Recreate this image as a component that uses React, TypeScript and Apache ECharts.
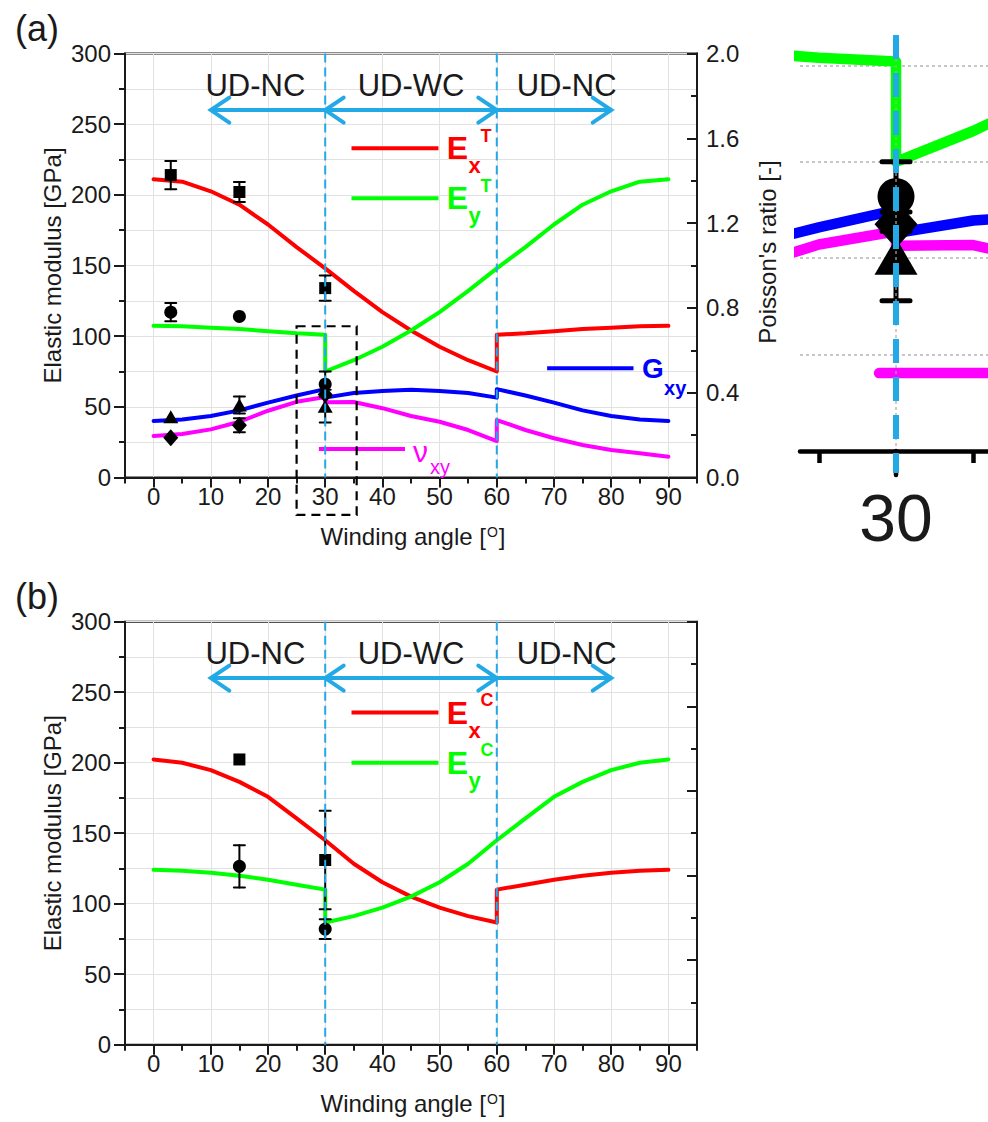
import React, { useEffect, useRef } from 'react';
import * as echarts from 'echarts';

// ---------------- data ----------------
const angles = [0, 5, 10, 15, 20, 25, 30, 30, 35, 40, 45, 50, 55, 60, 60, 65, 70, 75, 80, 85, 90];
// tension (a)
const ExT = [211, 209.3, 202.5, 193, 179, 163, 148, 148, 132, 117, 104, 92.5, 83, 75, 101, 102, 103.5, 105, 106, 107, 107.3];
const EyT = [107.3, 107, 106, 105, 103.5, 102, 101, 75, 83, 92.5, 104, 117, 132, 148, 148, 163, 179, 193, 202.5, 209.3, 211];
const GxyT = [40, 41, 43.5, 47.5, 53, 58, 62.5, 56.5, 59.8, 61.2, 62, 61.2, 59.8, 56.5, 62.5, 58, 53, 47.5, 43.5, 41, 40];
const NuxyT = [0.196, 0.205, 0.227, 0.263, 0.315, 0.357, 0.38, 0.355, 0.356, 0.327, 0.29, 0.263, 0.224, 0.172, 0.271, 0.224, 0.185, 0.153, 0.13, 0.114, 0.098];
// compression (b)
const ExC = [202.3, 200, 194.7, 186.4, 175.8, 160.5, 145, 145, 128.3, 115.2, 105, 97.2, 91.2, 86.7, 110, 113.5, 117, 119.8, 122, 123.3, 124];
const EyC = [124, 123.3, 122, 119.8, 117, 113.5, 110, 86.7, 91.2, 97.2, 105, 115.2, 128.3, 145, 145, 160.5, 175.8, 186.4, 194.7, 200, 202.3];

// experimental points (a)
const expTAngle = [3, 15, 30];
const expTEx = [214, 202, 134];
const expTExErr = [10, 7, 9];
const expTEy = [117, 114, 66];
const expTEyErr = [6.5, 0, 9];
const expTG = [43, 51.3, 50.5];
const expTGErr = [0, 6, 11.5];
const expTNu = [0.188, 0.247, 0.392];
const expTNuErr = [0, 0.033, 0];
// experimental points (b)
const expCAngle = [15, 30];
const expCEx = [202.3, 131];
const expCExErr = [0, 35];
const expCEy = [126.5, 82];
const expCEyErr = [15, 7];

// ticks / labels
const xTickValues = [0, 10, 20, 30, 40, 50, 60, 70, 80, 90];
const xMinorTickValues = [-5, 5, 15, 25, 35, 45, 55, 65, 75, 85, 95];
const boundaryAngles = [30, 60];
const regionLabels = ['UD-NC', 'UD-WC', 'UD-NC'];

// ---------------- styles / layout ----------------
const FONT = '"Liberation Sans", Arial, Helvetica, sans-serif';
const INK = '#1a1a1a';
const GRIDC = '#e2e2e2';
const CYAN = '#22a9e6';
const RED = '#ff0000';
const GREEN = '#00ff00';
const BLUE = '#0000ff';
const MAGENTA = '#ff00ff';
const INSET_X = [23.78, 35.96];
const INSET_Y_MAX = 107.9;
const NU_PER_GPA = 2 / 300;

function pairs(xs: number[], ys: number[]) {
  return xs.map((x, i) => [x, ys[i]]);
}
function errRows(xs: number[], ys: number[], es: number[]) {
  const rows: number[][] = [];
  xs.forEach((x, i) => {
    if (es[i] > 0) rows.push([x, ys[i] - es[i], ys[i] + es[i]]);
  });
  return rows;
}
const inInset = (r: number[]) => r[0] >= INSET_X[0] && r[0] <= INSET_X[1];

function lineSeries(xi: number, yi: number, ys: number[], color: string, width: number, z = 2) {
  return {
    type: 'line', xAxisIndex: xi, yAxisIndex: yi, data: pairs(angles, ys),
    symbol: 'none', showSymbol: false, clip: true, silent: true, z,
    lineStyle: { color, width, cap: 'round', join: 'round' },
    emphasis: { disabled: true },
  };
}
function errSeries(xi: number, yi: number, rows: number[][], halfCap: number, width: number, z = 3) {
  return {
    type: 'custom', xAxisIndex: xi, yAxisIndex: yi, data: rows, clip: true, silent: true, z,
    encode: { x: 0, y: [1, 2] },
    renderItem: (_p: any, api: any) => {
      const x = api.value(0);
      const lo = api.coord([x, api.value(1)]);
      const hi = api.coord([x, api.value(2)]);
      const style = { stroke: '#000', lineWidth: width, lineCap: 'round' };
      return {
        type: 'group',
        children: [
          { type: 'line', shape: { x1: lo[0], y1: lo[1], x2: hi[0], y2: hi[1] }, style },
          { type: 'line', shape: { x1: lo[0] - halfCap, y1: lo[1], x2: lo[0] + halfCap, y2: lo[1] }, style },
          { type: 'line', shape: { x1: hi[0] - halfCap, y1: hi[1], x2: hi[0] + halfCap, y2: hi[1] }, style },
        ],
      };
    },
  };
}
function scatterSeries(xi: number, yi: number, rows: number[][], symbol: string, size: any, z = 4) {
  return {
    type: 'scatter', xAxisIndex: xi, yAxisIndex: yi, data: rows, symbol, symbolSize: size,
    clip: true, silent: true, z, itemStyle: { color: '#000', opacity: 1 }, emphasis: { disabled: true },
  };
}

const tickLine = { color: INK, width: 2 };
function xMain(gi: number) {
  return {
    type: 'value', gridIndex: gi, position: 'bottom', min: -5, max: 95,
    axisLine: { show: true, onZero: false, lineStyle: tickLine },
    axisTick: { show: true, customValues: xTickValues, length: 10, lineStyle: tickLine },
    axisLabel: { show: true, customValues: xTickValues, fontSize: 24, fontFamily: FONT, color: INK, margin: 7 },
    splitLine: { show: true, lineStyle: { color: GRIDC, width: 1 } },
  };
}
function xMinor(gi: number) {
  return {
    type: 'value', gridIndex: gi, position: 'bottom', min: -5, max: 95,
    axisLine: { show: false, onZero: false },
    axisTick: { show: true, customValues: xMinorTickValues, length: 6, lineStyle: tickLine },
    axisLabel: { show: false },
    splitLine: { show: false },
  };
}
function yLeft(gi: number) {
  return {
    type: 'value', gridIndex: gi, position: 'left', min: 0, max: 300, interval: 50,
    axisLine: { show: true, onZero: false, lineStyle: tickLine },
    axisTick: { show: true, length: 11, lineStyle: tickLine },
    minorTick: { show: true, splitNumber: 2, length: 6, lineStyle: tickLine },
    axisLabel: { show: true, fontSize: 24, fontFamily: FONT, color: INK, margin: 14 },
    splitLine: { show: true, lineStyle: { color: GRIDC, width: 1 } },
    minorSplitLine: { show: true, lineStyle: { color: GRIDC, width: 1 } },
  };
}
function yRight(gi: number, showLabels: boolean) {
  return {
    type: 'value', gridIndex: gi, position: 'right', min: 0, max: 2, interval: 0.4,
    axisLine: { show: true, onZero: false, lineStyle: tickLine },
    axisTick: { show: true, inside: true, length: 10, lineStyle: tickLine },
    minorTick: { show: true, splitNumber: 2, length: 6, lineStyle: tickLine },
    axisLabel: {
      show: showLabels, fontSize: 24, fontFamily: FONT, color: INK, margin: 9,
      formatter: (v: number) => v.toFixed(1),
    },
    splitLine: { show: false },
  };
}

function buildOption() {
  const gridBase = { show: true, borderColor: INK, borderWidth: 2, backgroundColor: 'transparent', containLabel: false, outerBoundsMode: 'none' };
  const tErr = [
    ...errRows(expTAngle, expTEx, expTExErr),
    ...errRows(expTAngle, expTEy, expTEyErr),
    ...errRows(expTAngle, expTG, expTGErr),
  ];
  const nuErr = errRows(expTAngle, expTNu, expTNuErr);
  const cErr = [...errRows(expCAngle, expCEx, expCExErr), ...errRows(expCAngle, expCEy, expCEyErr)];
  return {
    animation: false,
    backgroundColor: '#fff',
    grid: [
      { ...gridBase, left: 125, top: 53.5, width: 572, height: 424 },
      { ...gridBase, left: 125, top: 621.7, width: 572, height: 423 },
      { left: 800, top: 35, width: 188, height: 416, show: false, containLabel: false, outerBoundsMode: 'none' },
    ],
    xAxis: [
      xMain(0), xMinor(0), xMain(1), xMinor(1),
      {
        type: 'value', gridIndex: 2, position: 'bottom', min: INSET_X[0], max: INSET_X[1],
        axisLine: { show: true, onZero: false, lineStyle: { color: '#000', width: 4.5 } },
        axisTick: { show: true, customValues: [25, 35], length: 12, lineStyle: { color: '#000', width: 4.5 } },
        axisLabel: { show: false }, splitLine: { show: false },
      },
    ],
    yAxis: [
      yLeft(0), yRight(0, true), yLeft(1), yRight(1, false),
      {
        type: 'value', gridIndex: 2, min: 0, max: INSET_Y_MAX,
        axisLine: { show: false, onZero: false },
        axisTick: { show: false, customValues: [25, 50, 75, 100] },
        axisLabel: { show: false },
        splitLine: { show: true, lineStyle: { color: '#b5b5b5', width: 1.5, type: [3, 3] } },
      },
      { type: 'value', gridIndex: 2, min: 0, max: INSET_Y_MAX * NU_PER_GPA, show: false },
    ],
    series: [
      // (a)
      lineSeries(0, 0, ExT, RED, 4),
      lineSeries(0, 0, EyT, GREEN, 4),
      lineSeries(0, 0, GxyT, BLUE, 4),
      lineSeries(0, 1, NuxyT, MAGENTA, 4),
      errSeries(0, 0, tErr, 5.5, 2),
      errSeries(0, 1, nuErr, 5.5, 2),
      scatterSeries(0, 0, pairs(expTAngle, expTEx), 'rect', 12),
      scatterSeries(0, 0, pairs(expTAngle, expTEy), 'circle', 13),
      scatterSeries(0, 0, pairs(expTAngle, expTG), 'triangle', [15, 13]),
      scatterSeries(0, 1, pairs(expTAngle, expTNu), 'diamond', [15, 17]),
      // (b)
      lineSeries(2, 2, ExC, RED, 4),
      lineSeries(2, 2, EyC, GREEN, 4),
      errSeries(2, 2, cErr, 5.5, 2),
      scatterSeries(2, 2, pairs(expCAngle, expCEx), 'rect', 12),
      scatterSeries(2, 2, pairs(expCAngle, expCEy), 'circle', 13),
      // inset (magnified view round 30 degrees)
      lineSeries(4, 4, ExT, RED, 10.5),
      lineSeries(4, 4, EyT, GREEN, 10.5),
      lineSeries(4, 4, GxyT, BLUE, 10.5),
      lineSeries(4, 5, NuxyT, MAGENTA, 10.5),
      errSeries(4, 4, tErr.filter(inInset), 14, 5),
      errSeries(4, 5, nuErr.filter(inInset), 14, 5),
      scatterSeries(4, 4, pairs(expTAngle, expTEx).filter(inInset), 'rect', 33),
      scatterSeries(4, 4, pairs(expTAngle, expTEy).filter(inInset), 'circle', 37),
      scatterSeries(4, 4, pairs(expTAngle, expTG).filter(inInset), 'triangle', [43, 37]),
      scatterSeries(4, 5, pairs(expTAngle, expTNu).filter(inInset), 'diamond', [43, 48]),
    ],
  };
}

function buildGraphic(chart: any) {
  const P = (xi: number, yi: number, x: number, y: number) =>
    chart.convertToPixel({ xAxisIndex: xi, yAxisIndex: yi }, [x, y]) as number[];
  const els: any[] = [];
  const text = (x: number, y: number, t: string, size: number, color = INK, weight = 'normal', align = 'center', rotation = 0) =>
    els.push({
      type: 'text', x, y, rotation, z: 30, silent: true,
      style: { text: t, fontSize: size, fontFamily: FONT, fontWeight: weight, fill: color, align, verticalAlign: 'middle' },
    });
  const seg = (x1: number, y1: number, x2: number, y2: number, color: string, w: number, dash: any = null, z = 30, cap = 'butt') =>
    els.push({
      type: 'line', z, silent: true, shape: { x1, y1, x2, y2 },
      style: dash ? { stroke: color, lineWidth: w, lineDash: dash, lineCap: cap } : { stroke: color, lineWidth: w, lineCap: cap },
    });
  const poly = (pts: number[][], color: string, w: number) =>
    els.push({
      type: 'polyline', z: 30, silent: true, shape: { points: pts },
      style: { stroke: color, lineWidth: w, fill: null, lineJoin: 'miter', lineCap: 'round' },
    });

  const panels = [
    { xi: 0, yi: 0, tag: '(a)', legY: [233, 197.6], sup: 'T' },
    { xi: 2, yi: 2, tag: '(b)', legY: [235.6, 199.9], sup: 'C' },
  ];
  const regionAt = [17.8, 45, 72.2];
  panels.forEach((p) => {
    const tl = P(p.xi, p.yi, -5, 300);
    const br = P(p.xi, p.yi, 95, 0);
    text(37, tl[1] - 25.5, p.tag, 36);
    regionLabels.forEach((t, i) => {
      const q = P(p.xi, p.yi, regionAt[i], 277.5);
      text(q[0], q[1], t, 31);
    });
    // arrows
    const ay = P(p.xi, p.yi, 0, 260)[1];
    const ax = [10, 30, 60, 80].map((a) => P(p.xi, p.yi, a, 0)[0]);
    seg(ax[0], ay, ax[3], ay, CYAN, 4);
    const dx = 18.5, dy = 12.5;
    poly([[ax[0] + dx, ay - dy], [ax[0], ay], [ax[0] + dx, ay + dy]], CYAN, 4);
    poly([[ax[1] + dx, ay - dy], [ax[1], ay], [ax[1] + dx, ay + dy]], CYAN, 4);
    poly([[ax[2] - dx, ay - dy], [ax[2], ay], [ax[2] - dx, ay + dy]], CYAN, 4);
    poly([[ax[3] - dx, ay - dy], [ax[3], ay], [ax[3] - dx, ay + dy]], CYAN, 4);
    // region boundaries
    boundaryAngles.forEach((a) => {
      const t = P(p.xi, p.yi, a, 300);
      const u = P(p.xi, p.yi, a, 0);
      seg(t[0], t[1], u[0], u[1], CYAN, 2, [9, 5], 50);
    });
    // legend Ex / Ey
    const legs = [
      { y: p.legY[0], color: RED, sub: 'x' },
      { y: p.legY[1], color: GREEN, sub: 'y' },
    ];
    legs.forEach((l) => {
      const a = P(p.xi, p.yi, 34.6, l.y);
      const b = P(p.xi, p.yi, 49.8, l.y);
      seg(a[0], a[1], b[0], b[1], l.color, 4);
      text(b[0] + 8.4, a[1], 'E', 32, l.color, 'bold', 'left');
      text(b[0] + 30, a[1] + 17.5, l.sub, 22, l.color, 'bold', 'left');
      text(b[0] + 42, a[1] - 12.5, p.sup, 18, l.color, 'bold', 'left');
    });
    // axis titles
    text(52, (tl[1] + br[1]) / 2, 'Elastic modulus [GPa]', 24, INK, 'normal', 'center', Math.PI / 2);
    els.push({
      type: 'text', x: P(p.xi, p.yi, 45, 0)[0] + 2, y: br[1] + 59.2, z: 30, silent: true,
      style: {
        text: 'Winding angle [{s|O}]', fontSize: 24, fontFamily: FONT, fill: INK, align: 'center', verticalAlign: 'middle',
        rich: { s: { fontSize: 14, fontFamily: FONT, fill: INK, verticalAlign: 'top', padding: [0, 1, 0, 1] } },
      },
    });
  });

  // (a) extras
  {
    const g1 = P(0, 0, 68.8, 77.3);
    const g2 = P(0, 0, 83.9, 77.3);
    seg(g1[0], g1[1], g2[0], g2[1], BLUE, 4);
    text(g2[0] + 8.4, g1[1], 'G', 28, BLUE, 'bold', 'left');
    text(g2[0] + 30.5, g1[1] + 20, 'xy', 20, BLUE, 'bold', 'left');
    const n1 = P(0, 0, 28.9, 20.2);
    const n2 = P(0, 0, 43.95, 20.2);
    seg(n1[0], n1[1], n2[0], n2[1], MAGENTA, 4);
    text(n2[0] + 8, n1[1] + 3, 'ν', 30, MAGENTA, 'normal', 'left');
    text(n2[0] + 25, n1[1] + 18, 'xy', 20, MAGENTA, 'normal', 'left');
    const tr = P(0, 1, 95, 1);
    text(tr[0] + 70, 252, "Poisson's ratio [-]", 24, INK, 'normal', 'center', Math.PI / 2);
    const b1 = P(0, 0, 25, 107);
    const b2 = P(0, 0, 35.5, -26.5);
    els.push({
      type: 'rect', z: 40, silent: true,
      shape: { x: b1[0], y: b1[1], width: b2[0] - b1[0], height: b2[1] - b1[1] },
      style: { fill: null, stroke: '#000', lineWidth: 2.2, lineDash: [9, 6] },
    });
  }

  // inset extras
  {
    const q0 = P(4, 4, 30, 0);
    const qt = P(4, 4, 30, INSET_Y_MAX);
    seg(q0[0], qt[1], q0[0], q0[1], '#aaa', 1.2, [3, 3], 8);
    seg(q0[0], q0[1], q0[0], q0[1] + 24, '#000', 4.5, null, 9, 'round');
    seg(q0[0], qt[1], q0[0], q0[1] + 22, CYAN, 6, [24, 14], 50);
    text(q0[0], 518, '30', 66);
    const n1 = P(4, 4, 28.9, 20.2);
    const n2 = P(4, 4, 43.95, 20.2);
    seg(n1[0], n1[1], n2[0], n2[1], MAGENTA, 10.5, null, 6, 'round');
  }
  return els;
}

export default function App() {
  const ref = useRef<HTMLDivElement>(null);
  useEffect(() => {
    const el = ref.current as HTMLDivElement;
    const chart = echarts.init(el, undefined, { renderer: 'svg' });
    chart.setOption(buildOption() as any);
    chart.setOption({ graphic: buildGraphic(chart) } as any);
    return () => chart.dispose();
  }, []);
  return (
    <div
      ref={ref}
      style={{ position: 'absolute', left: 0, top: 0, width: 988, height: 1122, background: '#fff' }}
    />
  );
}
